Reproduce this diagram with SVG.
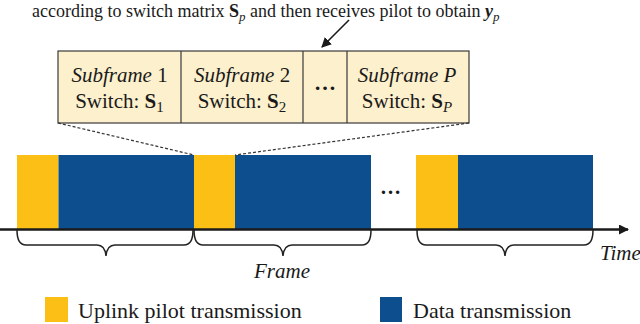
<svg xmlns="http://www.w3.org/2000/svg" width="640" height="324" viewBox="0 0 640 324">
<defs>
<style>
.t{font-family:"Liberation Serif","DejaVu Serif",serif;fill:#1a1a1a}
.it{font-style:italic}
.b{font-weight:bold}
.yel{fill:#FBBF16}
.blu{fill:#0D4E8E}
.box{fill:#FDF0CC;stroke:#3a3a3a;stroke-width:1.2}
.dash{stroke:#333;stroke-width:1.2;stroke-dasharray:3 2;fill:none}
.brace{fill:none;stroke:#222;stroke-width:1.5}
</style>
<marker id="ah" viewBox="0 0 10 10" refX="9" refY="5" markerWidth="10" markerHeight="10" markerUnits="userSpaceOnUse" orient="auto">
<path d="M0,0 L10,5 L0,10 z" fill="#1a1a1a"/>
</marker>
<marker id="ah2" viewBox="0 0 10 10" refX="9" refY="5" markerWidth="11" markerHeight="10" markerUnits="userSpaceOnUse" orient="auto">
<path d="M0,0 L10,5 L0,10 z" fill="#1a1a1a"/>
</marker>
</defs>
<g id="caption">
<text class="t" x="32" y="17" font-size="18">according to switch matrix <tspan class="b">S</tspan><tspan class="it" font-size="13" dy="4">p</tspan><tspan dy="-4"> and then receives pilot to obtain </tspan><tspan class="b it">y</tspan><tspan class="it" font-size="13" dy="4">p</tspan></text>
</g>
<g id="subframes">
<rect class="box" x="58" y="51" width="411" height="72"/>
<line x1="181" y1="51" x2="181" y2="123" stroke="#3a3a3a" stroke-width="1.2"/>
<line x1="303" y1="51" x2="303" y2="123" stroke="#3a3a3a" stroke-width="1.2"/>
<line x1="347" y1="51" x2="347" y2="123" stroke="#3a3a3a" stroke-width="1.2"/>
</g>
<g id="subframe1">
<text class="t" x="119.5" y="82" font-size="21" text-anchor="middle"><tspan class="it">Subframe</tspan> 1</text>
<text class="t" x="119.5" y="108" font-size="21" text-anchor="middle">Switch: <tspan class="b">S</tspan><tspan font-size="15" dy="4">1</tspan></text>
</g>
<g id="subframe2">
<text class="t" x="242" y="82" font-size="21" text-anchor="middle"><tspan class="it">Subframe</tspan> 2</text>
<text class="t" x="242" y="108" font-size="21" text-anchor="middle">Switch: <tspan class="b">S</tspan><tspan font-size="15" dy="4">2</tspan></text>
</g>
<g id="subframe-dots">
<text class="t b" x="325" y="90" font-size="22" text-anchor="middle">…</text>
</g>
<g id="subframeP">
<text class="t" x="407" y="82" font-size="21" text-anchor="middle"><tspan class="it">Subframe P</tspan></text>
<text class="t" x="407" y="108" font-size="21" text-anchor="middle">Switch: <tspan class="b">S</tspan><tspan class="it" font-size="15" dy="4">P</tspan></text>
</g>
<g id="frame1">
<rect class="yel" x="17" y="155" width="41.5" height="74"/>
<rect class="blu" x="58.5" y="155" width="135.5" height="74"/>
</g>
<g id="frame2">
<rect class="yel" x="194" y="155" width="41" height="74"/>
<rect class="blu" x="235" y="155" width="136" height="74"/>
</g>
<g id="frame-dots">
<text class="t b" x="390.5" y="194" font-size="21" text-anchor="middle">…</text>
</g>
<g id="frame3">
<rect class="yel" x="416" y="155" width="42" height="74"/>
<rect class="blu" x="458" y="155" width="135" height="74"/>
</g>
<g id="connectors">
<line x1="349" y1="20" x2="322" y2="47" stroke="#1a1a1a" stroke-width="1.6" marker-end="url(#ah)"/>
<line class="dash" x1="58" y1="123" x2="194" y2="155"/>
<line class="dash" x1="469" y1="123" x2="235" y2="155"/>
<line x1="0" y1="229.5" x2="628" y2="229.5" stroke="#1a1a1a" stroke-width="2.6" marker-end="url(#ah2)"/>
<path class="brace" d="M17,230 Q17,245 26,245 L97,245 Q105,245 106,256 Q107,245 115,245 L184,245 Q193,245 193,230"/>
<path class="brace" d="M194,230 Q194,245 203,245 L274,245 Q282,245 283,256 Q284,245 292,245 L362,245 Q371,245 371,230"/>
<path class="brace" d="M417,230 Q417,245 426,245 L496,245 Q504,245 505,256 Q506,245 514,245 L584,245 Q593,245 593,230"/>
</g>
<g id="labels">
<text class="t it" x="282" y="278" font-size="21" text-anchor="middle">Frame</text>
<text class="t it" x="600" y="260" font-size="21">Time</text>
</g>
<g id="legend">
<rect class="yel" x="45" y="297" width="23" height="25"/>
<text class="t" x="78" y="318" font-size="22">Uplink pilot transmission</text>
<rect class="blu" x="380" y="297" width="22" height="25"/>
<text class="t" x="413" y="318" font-size="22">Data transmission</text>
</g>
</svg>
